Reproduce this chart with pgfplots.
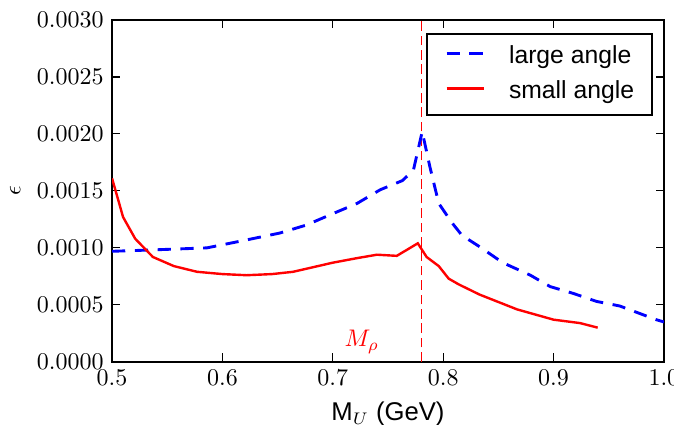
\documentclass[border=0pt]{standalone}
\usepackage{pgfplots}
\pgfplotsset{compat=1.18}
\usepackage{fontspec}
\newfontfamily\helv{Liberation Sans}
\begin{document}
\begin{tikzpicture}
\begin{axis}[
  scale only axis,
  width=230pt, height=142.5pt,
  xmin=0.5, xmax=1.0, ymin=0, ymax=0.003,
  xtick={0.5,0.6,0.7,0.8,0.9,1.0},
  ytick={0,0.0005,0.001,0.0015,0.002,0.0025,0.003},
  scaled y ticks=false, scaled x ticks=false,
  xticklabel style={/pgf/number format/.cd, fixed, fixed zerofill, precision=1},
  yticklabel style={/pgf/number format/.cd, fixed, fixed zerofill, precision=4},
  tick align=inside,
  major tick length=3.5pt,
  tick style={black, line width=0.5pt},
  axis line style={line width=0.8pt},
  xlabel={{\helv\fontsize{10.7}{12}\selectfont M$_U$ (GeV)}},
  ylabel={$\epsilon$},
  legend cell align=left,
  legend image code/.code={\draw[#1] (0pt,1.45pt) -- (15.4pt,1.45pt);},
  legend style={at={(1,1)}, anchor=north east, xshift=-4.6pt, yshift=-5.4pt,
    draw=black, line width=0.7pt, fill=white,
    font=\helv\fontsize{10.3}{12}\selectfont,
    inner xsep=7.5pt, inner ysep=4.8pt,
    nodes={inner sep=0pt, text height=7.5pt, text depth=2.1pt},
    row sep=5pt, column sep=10pt},
]
\addplot[red, line width=0.4pt, dash pattern=on 4pt off 2pt, forget plot] coordinates {(0.78,0) (0.78,0.003)};
\addplot[blue, line width=1.2pt, dash pattern=on 5.5pt off 4pt] coordinates {
(0.500,0.00097)
(0.531,0.00098)
(0.586,0.00100)
(0.622,0.00107)
(0.652,0.00113)
(0.676,0.00120)
(0.700,0.00130)
(0.722,0.00139)
(0.743,0.00151)
(0.763,0.00159)
(0.773,0.00168)
(0.781,0.00202)
(0.788,0.00171)
(0.796,0.00139)
(0.808,0.00122)
(0.817,0.00111)
(0.833,0.00101)
(0.854,0.00087)
(0.879,0.00076)
(0.897,0.00066)
(0.918,0.00060)
(0.939,0.00053)
(0.960,0.00049)
(0.993,0.00037)
(1.000,0.00035)
};
\addlegendentry{large angle}
\addplot[red, line width=1pt] coordinates {
(0.500,0.00161)
(0.510,0.00127)
(0.521,0.00108)
(0.537,0.00092)
(0.556,0.00084)
(0.577,0.00079)
(0.600,0.00077)
(0.622,0.00076)
(0.645,0.00077)
(0.664,0.00079)
(0.700,0.00087)
(0.722,0.00091)
(0.740,0.00094)
(0.758,0.00093)
(0.777,0.00104)
(0.785,0.00092)
(0.796,0.00084)
(0.805,0.00073)
(0.814,0.00068)
(0.833,0.00059)
(0.867,0.00046)
(0.900,0.00037)
(0.924,0.00034)
(0.940,0.00030)
};
\addlegendentry{small angle}
\node[red, anchor=base, font=\fontsize{10.4}{12}\selectfont] at (axis cs:0.7264,0.000132) {$M_\rho$};
\end{axis}
\pgfresetboundingbox
\useasboundingbox (-46.7pt,-26.25pt) rectangle (234.2pt,150.8pt);
\end{tikzpicture}
\end{document}
